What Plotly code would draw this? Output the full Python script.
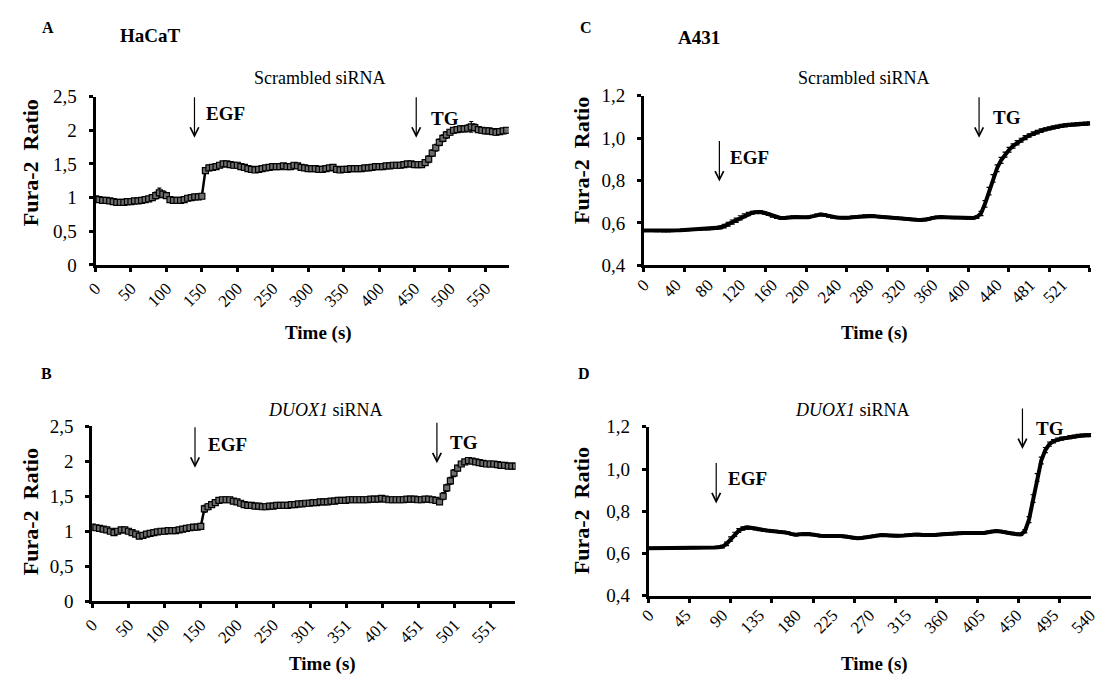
import plotly.graph_objects as go

W, H = 1106, 686
SERIF = "Liberation Serif, Times New Roman, Times, serif"

# ---------------- data ----------------
# Panel A: HaCaT, scrambled siRNA (sampled every 5 s)
a_time = list(range(0, 585, 5))
a_ratio = [0.98, 0.97, 0.96, 0.96, 0.95, 0.94, 0.93, 0.93, 0.93, 0.94,
           0.94, 0.95, 0.95, 0.96, 0.97, 0.98, 1.00, 1.03, 1.07, 1.05,
           1.03, 0.97, 0.96, 0.96, 0.96, 0.97, 0.99, 1.00, 1.01, 1.01,
           1.02, 1.40, 1.44, 1.45, 1.46, 1.48, 1.50, 1.50, 1.49, 1.48,
           1.48, 1.46, 1.45, 1.43, 1.42, 1.41, 1.42, 1.43, 1.44, 1.45,
           1.46, 1.46, 1.46, 1.47, 1.46, 1.46, 1.48, 1.47, 1.45, 1.44,
           1.43, 1.43, 1.43, 1.42, 1.42, 1.43, 1.44, 1.45, 1.42, 1.41,
           1.42, 1.42, 1.43, 1.43, 1.43, 1.43, 1.44, 1.44, 1.45, 1.46,
           1.46, 1.46, 1.47, 1.47, 1.48, 1.48, 1.48, 1.49, 1.50, 1.50,
           1.49, 1.49, 1.49, 1.52, 1.57, 1.66, 1.74, 1.82, 1.88, 1.93,
           1.97, 2.00, 2.01, 2.02, 2.02, 2.03, 2.05, 2.04, 2.01, 2.00,
           1.99, 1.99, 1.98, 1.97, 1.98, 1.99, 2.00]
a_err = [0.03, 0.03, 0.03, 0.03, 0.03, 0.03, 0.03, 0.03, 0.03, 0.03,
         0.03, 0.03, 0.03, 0.03, 0.03, 0.03, 0.04, 0.05, 0.07, 0.05,
         0.04, 0.03, 0.03, 0.03, 0.03, 0.03, 0.03, 0.03, 0.03, 0.03,
         0.03, 0.04, 0.04, 0.03, 0.03, 0.03, 0.03, 0.03, 0.03, 0.03,
         0.03, 0.03, 0.03, 0.03, 0.03, 0.03, 0.03, 0.03, 0.03, 0.03,
         0.03, 0.03, 0.03, 0.03, 0.03, 0.03, 0.03, 0.03, 0.03, 0.03,
         0.03, 0.03, 0.03, 0.03, 0.03, 0.03, 0.03, 0.03, 0.03, 0.03,
         0.03, 0.03, 0.03, 0.03, 0.03, 0.03, 0.03, 0.03, 0.03, 0.03,
         0.03, 0.03, 0.03, 0.03, 0.03, 0.03, 0.03, 0.03, 0.03, 0.03,
         0.03, 0.03, 0.03, 0.04, 0.05, 0.05, 0.05, 0.05, 0.05, 0.05,
         0.04, 0.04, 0.04, 0.04, 0.04, 0.05, 0.08, 0.05, 0.04, 0.04,
         0.04, 0.04, 0.04, 0.04, 0.04, 0.04, 0.04]
a_ticks = [0, 50, 100, 150, 200, 250, 300, 350, 400, 450, 500, 550]

# Panel B: HaCaT, DUOX1 siRNA
b_time = list(range(0, 590, 5))
b_ratio = [1.06, 1.05, 1.04, 1.03, 1.02, 1.00, 0.98, 1.00, 1.02, 1.02,
           1.00, 0.98, 0.96, 0.93, 0.94, 0.96, 0.97, 0.98, 0.99, 1.00,
           1.00, 1.01, 1.01, 1.01, 1.02, 1.03, 1.04, 1.05, 1.06, 1.06,
           1.07, 1.32, 1.35, 1.38, 1.41, 1.44, 1.45, 1.45, 1.45, 1.43,
           1.42, 1.40, 1.38, 1.37, 1.37, 1.36, 1.36, 1.35, 1.35, 1.36,
           1.36, 1.37, 1.37, 1.37, 1.37, 1.38, 1.38, 1.39, 1.39, 1.40,
           1.40, 1.41, 1.41, 1.42, 1.42, 1.42, 1.43, 1.43, 1.44, 1.44,
           1.44, 1.45, 1.45, 1.45, 1.45, 1.45, 1.45, 1.46, 1.46, 1.46,
           1.47, 1.46, 1.45, 1.45, 1.45, 1.45, 1.45, 1.46, 1.46, 1.46,
           1.45, 1.45, 1.46, 1.46, 1.45, 1.44, 1.42, 1.50, 1.62, 1.72,
           1.83, 1.90, 1.96, 1.99, 2.01, 2.00, 1.99, 1.98, 1.97, 1.96,
           1.96, 1.96, 1.95, 1.94, 1.94, 1.93, 1.93, 1.93]
b_err = [0.04, 0.03, 0.03, 0.03, 0.03, 0.03, 0.03, 0.03, 0.03, 0.03,
         0.03, 0.03, 0.03, 0.03, 0.03, 0.03, 0.03, 0.03, 0.03, 0.03,
         0.03, 0.03, 0.03, 0.03, 0.03, 0.03, 0.03, 0.03, 0.03, 0.03,
         0.03, 0.05, 0.04, 0.03, 0.03, 0.03, 0.03, 0.03, 0.03, 0.03,
         0.03, 0.03, 0.03, 0.04, 0.03, 0.03, 0.03, 0.03, 0.03, 0.03,
         0.02, 0.02, 0.02, 0.02, 0.02, 0.02, 0.02, 0.02, 0.02, 0.02,
         0.02, 0.02, 0.02, 0.02, 0.02, 0.02, 0.02, 0.02, 0.02, 0.02,
         0.02, 0.02, 0.02, 0.02, 0.02, 0.02, 0.02, 0.02, 0.02, 0.02,
         0.02, 0.02, 0.02, 0.02, 0.02, 0.02, 0.02, 0.02, 0.02, 0.02,
         0.02, 0.02, 0.02, 0.02, 0.02, 0.02, 0.03, 0.05, 0.05, 0.05,
         0.05, 0.04, 0.03, 0.03, 0.03, 0.03, 0.03, 0.03, 0.03, 0.03,
         0.03, 0.03, 0.03, 0.03, 0.03, 0.03, 0.03, 0.03]
b_ticks = [0, 50, 100, 150, 200, 250, 301, 351, 401, 451, 501, 551]

# Panel C: A431, scrambled siRNA
c_time = list(range(0, 560, 5))
c_ratio = [0.565, 0.565, 0.564, 0.563, 0.563, 0.562, 0.562, 0.563, 0.565, 0.566,
           0.567, 0.568, 0.569, 0.570, 0.570, 0.571, 0.572, 0.574, 0.576, 0.579,
           0.585, 0.594, 0.604, 0.613, 0.624, 0.634, 0.642, 0.648, 0.651, 0.652,
           0.648, 0.641, 0.633, 0.627, 0.624, 0.624, 0.626, 0.628, 0.628, 0.627,
           0.626, 0.627, 0.631, 0.637, 0.640, 0.638, 0.633, 0.628, 0.626, 0.625,
           0.624, 0.625, 0.627, 0.629, 0.631, 0.633, 0.634, 0.633, 0.631, 0.629,
           0.627, 0.626, 0.625, 0.624, 0.622, 0.620, 0.618, 0.616, 0.615, 0.614,
           0.615, 0.619, 0.624, 0.627, 0.628, 0.627, 0.626, 0.625, 0.625, 0.625,
           0.624, 0.623, 0.623, 0.628, 0.645, 0.690, 0.750, 0.810, 0.858, 0.895,
           0.922, 0.945, 0.963, 0.978, 0.990, 1.002, 1.012, 1.021, 1.028, 1.035,
           1.041, 1.046, 1.050, 1.054, 1.057, 1.060, 1.062, 1.064, 1.066, 1.067,
           1.068, 1.069]
c_err = [0.004, 0.004, 0.004, 0.004, 0.004, 0.004, 0.004, 0.004, 0.004, 0.004,
         0.004, 0.004, 0.004, 0.004, 0.004, 0.004, 0.005, 0.005, 0.006, 0.007,
         0.008, 0.009, 0.010, 0.010, 0.010, 0.009, 0.008, 0.007, 0.006, 0.006,
         0.006, 0.005, 0.005, 0.005, 0.005, 0.005, 0.005, 0.005, 0.005, 0.005,
         0.005, 0.005, 0.005, 0.005, 0.005, 0.005, 0.005, 0.005, 0.005, 0.005,
         0.005, 0.005, 0.005, 0.005, 0.005, 0.005, 0.005, 0.005, 0.005, 0.005,
         0.005, 0.005, 0.005, 0.005, 0.005, 0.005, 0.005, 0.005, 0.005, 0.005,
         0.005, 0.005, 0.005, 0.005, 0.005, 0.005, 0.005, 0.005, 0.005, 0.005,
         0.005, 0.005, 0.005, 0.006, 0.010, 0.015, 0.018, 0.018, 0.016, 0.014,
         0.012, 0.011, 0.010, 0.010, 0.009, 0.009, 0.008, 0.008, 0.008, 0.008,
         0.007, 0.007, 0.007, 0.007, 0.007, 0.007, 0.007, 0.007, 0.007, 0.007,
         0.007, 0.007]
c_ticks = [0, 40, 80, 120, 160, 200, 240, 280, 320, 360, 400, 440, 481, 521]

# Panel D: A431, DUOX1 siRNA
d_time = list(range(0, 545, 5))
d_ratio = [0.624, 0.624, 0.624, 0.624, 0.624, 0.624, 0.624, 0.625, 0.625, 0.625,
           0.626, 0.626, 0.626, 0.627, 0.627, 0.628, 0.628, 0.629, 0.632, 0.645,
           0.668, 0.690, 0.708, 0.718, 0.722, 0.721, 0.717, 0.713, 0.710, 0.708,
           0.706, 0.704, 0.702, 0.700, 0.697, 0.691, 0.688, 0.690, 0.693, 0.692,
           0.689, 0.685, 0.683, 0.682, 0.683, 0.684, 0.684, 0.682, 0.680, 0.677,
           0.674, 0.672, 0.673, 0.676, 0.679, 0.682, 0.685, 0.687, 0.686, 0.684,
           0.683, 0.683, 0.684, 0.686, 0.689, 0.690, 0.689, 0.687, 0.686, 0.686,
           0.687, 0.689, 0.691, 0.693, 0.693, 0.694, 0.696, 0.697, 0.697, 0.696,
           0.695, 0.695, 0.697, 0.700, 0.704, 0.706, 0.704, 0.700, 0.697, 0.694,
           0.691, 0.690, 0.705, 0.760, 0.860, 0.960, 1.040, 1.090, 1.118, 1.132,
           1.140, 1.144, 1.147, 1.151, 1.154, 1.157, 1.159, 1.160, 1.161]
d_err = [0.004, 0.004, 0.004, 0.004, 0.004, 0.004, 0.004, 0.004, 0.004, 0.004,
         0.004, 0.004, 0.004, 0.004, 0.004, 0.004, 0.004, 0.005, 0.006, 0.008,
         0.010, 0.010, 0.009, 0.008, 0.007, 0.006, 0.006, 0.005, 0.005, 0.005,
         0.005, 0.005, 0.005, 0.005, 0.005, 0.005, 0.005, 0.005, 0.005, 0.005,
         0.005, 0.005, 0.005, 0.005, 0.005, 0.005, 0.005, 0.005, 0.005, 0.005,
         0.005, 0.005, 0.005, 0.005, 0.005, 0.005, 0.005, 0.005, 0.005, 0.005,
         0.005, 0.005, 0.005, 0.005, 0.005, 0.005, 0.005, 0.005, 0.005, 0.005,
         0.005, 0.005, 0.005, 0.005, 0.005, 0.005, 0.005, 0.005, 0.005, 0.005,
         0.005, 0.005, 0.005, 0.005, 0.005, 0.005, 0.005, 0.005, 0.005, 0.005,
         0.005, 0.005, 0.008, 0.014, 0.018, 0.018, 0.016, 0.012, 0.010, 0.008,
         0.007, 0.007, 0.007, 0.007, 0.007, 0.007, 0.007, 0.007, 0.007]
d_ticks = [0, 45, 90, 135, 180, 225, 270, 315, 360, 405, 450, 495, 540]

hacat_yticks = [0, 0.5, 1, 1.5, 2, 2.5]
hacat_ylabels = ["0", "0,5", "1", "1,5", "2", "2,5"]
a431_yticks = [0.4, 0.6, 0.8, 1.0, 1.2]
a431_ylabels = ["0,4", "0,6", "0,8", "1,0", "1,2"]

# stimulus times (s) and arrow tips (ratio)
stim = {
    "x": dict(egf=(139.6, 1.89), tg=(452.4, 1.89), egf_lbl=(153, 2.25), tg_lbl=(470, 2.18)),
    "x2": dict(egf=(142, 1.905), tg=(476.4, 1.97), egf_lbl=(157, 2.24), tg_lbl=(492, 2.27)),
    "x3": dict(egf=(94, 0.795), tg=(417.6, 1.001), egf_lbl=(105, 0.909), tg_lbl=(432, 1.097)),
    "x4": dict(egf=(82.4, 0.837), tg=(457, 1.095), egf_lbl=(94.4, 0.953), tg_lbl=(471, 1.192)),
}


def fx(p):
    return p / W


def fy(p):
    return 1 - p / H


fig = go.Figure()

panels = [
    ("x", "y", a_time, a_ratio, a_err, "square"),
    ("x2", "y2", b_time, b_ratio, b_err, "square"),
    ("x3", "y3", c_time, c_ratio, c_err, None),
    ("x4", "y4", d_time, d_ratio, d_err, None),
]
for xa, ya, t, v, e, sym in panels:
    if sym:
        fig.add_trace(go.Scatter(
            x=t, y=v, xaxis=xa, yaxis=ya, mode="lines+markers",
            line=dict(color="black", width=2.5),
            marker=dict(symbol="square", size=6, color="#6e6e6e",
                        line=dict(color="black", width=1.2)),
            error_y=dict(type="data", array=e, color="black", thickness=1.2, width=2),
            hoverinfo="skip"))
    else:
        fig.add_trace(go.Scatter(
            x=t, y=v, xaxis=xa, yaxis=ya, mode="lines",
            line=dict(color="black", width=4),
            error_y=dict(type="data", array=e, color="black", thickness=1.2, width=2.5),
            hoverinfo="skip"))

tickfont = dict(family=SERIF, size=17, color="black")
ytickfont = dict(family=SERIF, size=19, color="black")


def xaxis(dom, rng, tv, minor_dtick=None):
    d = dict(domain=dom, range=rng, tickmode="array", tickvals=tv,
             ticktext=[str(k) for k in tv], tickangle=-45, tickfont=tickfont,
             ticklabeloverflow="allow",
             showline=True, linewidth=3, linecolor="black", showgrid=False,
             zeroline=False, fixedrange=True)
    if minor_dtick is None:
        d.update(ticks="outside", ticklen=4, tickwidth=3, tickcolor="black")
    else:
        d.update(ticks="", minor=dict(ticks="outside", tickmode="linear", tick0=0,
                                      dtick=minor_dtick, ticklen=4, tickwidth=3,
                                      tickcolor="black", showgrid=False))
    return d


def yaxis(dom, rng, tv, tt):
    return dict(domain=dom, range=rng, tickmode="array", tickvals=tv, ticktext=tt,
                tickfont=ytickfont, ticks="outside", ticklen=4, tickwidth=3,
                ticklabelstandoff=8,
                tickcolor="black", showline=True, linewidth=3, linecolor="black",
                showgrid=False, zeroline=False, fixedrange=True)


fig.update_layout(
    width=W, height=H, margin=dict(l=0, r=0, t=0, b=0),
    paper_bgcolor="white", plot_bgcolor="white", showlegend=False,
    font=dict(family=SERIF, color="black"),
    xaxis=dict(xaxis([fx(86), fx(506.5)], [0, 583], a_ticks), anchor="y"),
    yaxis=dict(yaxis([fy(263), fy(89.3)], [0, 2.5], hacat_yticks, hacat_ylabels), anchor="x"),
    xaxis2=dict(xaxis([fx(82.7), fx(513.3)], [0, 585], b_ticks), anchor="y2"),
    yaxis2=dict(yaxis([fy(610), fy(429.3)], [0, 2.5], hacat_yticks, hacat_ylabels), anchor="x2"),
    xaxis3=dict(xaxis([fx(644), fx(1098)], [0, 556], c_ticks, minor_dtick=50.5), anchor="y3"),
    yaxis3=dict(yaxis([fy(263.5), fy(88.3)], [0.4, 1.2], a431_yticks, a431_ylabels), anchor="x3"),
    xaxis4=dict(xaxis([fx(649), fx(1099)], [0, 541], d_ticks, minor_dtick=50.2), anchor="y4"),
    yaxis4=dict(yaxis([fy(604), fy(430)], [0.4, 1.2], a431_yticks, a431_ylabels), anchor="x4"),
)

ann = []


def text(x, y, s, size, angle=0):
    ann.append(dict(x=fx(x), y=fy(y), xref="paper", yref="paper", text=s,
                    showarrow=False, textangle=angle, xanchor="center", yanchor="middle",
                    font=dict(family=SERIF, size=size, color="black")))


# panel letters and cell lines
text(37.7, 18.3, "<b>A</b>", 16)
text(142, 26.7, "<b>HaCaT</b>", 19)
text(584.7, 18.3, "<b>C</b>", 16)
text(700, 28.3, "<b>A431</b>", 19)
text(36, 374.7, "<b>B</b>", 16)
text(583, 374.7, "<b>D</b>", 16)
# subtitles
text(314, 70, "Scrambled siRNA", 18)
text(867.6, 70, "Scrambled siRNA", 18)
text(320, 413, "<i>DUOX1</i> siRNA", 18)
text(855.8, 413, "<i>DUOX1</i> siRNA", 18)
# axis titles
for (cx, cy) in [(313, 333), (878.7, 333), (317, 675), (878.7, 675)]:
    text(cx, cy, "<b>Time (s)</b>", 19)
for (cx, cy) in [(19.4, 158), (581, 155.7), (19.4, 518), (580, 517)]:
    text(cx, cy, "<b>Fura-2\u00a0\u00a0Ratio</b>", 22, angle=-90)

# stimulus arrows and labels
for xa, s in stim.items():
    ya = "y" + xa[1:]
    for key, lbl in (("egf", "EGF"), ("tg", "TG")):
        tx, ty = s[key]
        ann.append(dict(x=tx, y=ty, xref=xa, yref=ya, ax=0, ay=-42,
                        axref="pixel", ayref="pixel", text="", showarrow=True,
                        arrowhead=5, arrowsize=1.4, arrowwidth=1.2, arrowcolor="black"))
        lx, ly = s[key + "_lbl"]
        ann.append(dict(x=lx, y=ly, xref=xa, yref=ya, text="<b>" + lbl + "</b>",
                        showarrow=False, xanchor="left", yanchor="middle",
                        font=dict(family=SERIF, size=19, color="black")))

fig.update_layout(annotations=ann)
fig.write_html("out.html")
